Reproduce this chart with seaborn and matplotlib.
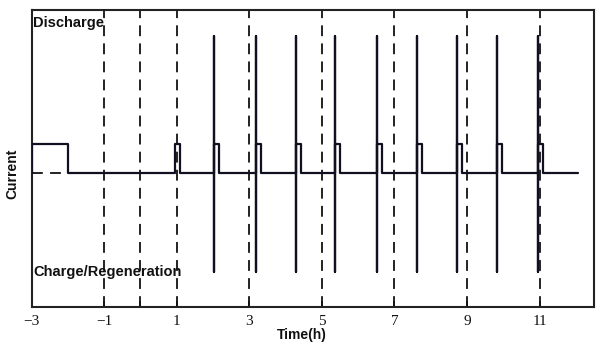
import numpy as np
import pandas as pd
import matplotlib
matplotlib.use("Agg")
import matplotlib.pyplot as plt
import seaborn as sns

# Event times (hours) and current levels
initial_end = -2.0            # initial discharge block from -3 h
first_pulse = 0.95            # standalone discharge pulse
spike_times = [2.04, 3.19, 4.28, 5.37, 6.52, 7.63, 8.72, 9.83, 10.96]
pulse_width = 0.14
end_time = 12.05
base_level = 0.0
pulse_level = 1.0
spike_top = 4.7
spike_bottom = -3.4
marker_lines = [-1, 0, 1, 3, 5, 7, 9, 11]
tick_positions = [-3, -1, 0, 1, 3, 5, 7, 9, 11]
tick_labels = ["\u22123", "\u22121", "", "1", "3", "5", "7", "9", "11"]

# Build the current profile as a step path
xs, ys = [], []
def add(x, y):
    xs.append(x); ys.append(y)

add(-3, base_level); add(-3, pulse_level); add(initial_end, pulse_level); add(initial_end, base_level)
add(first_pulse, base_level); add(first_pulse, pulse_level)
add(first_pulse + pulse_width, pulse_level); add(first_pulse + pulse_width, base_level)
for t in spike_times:
    add(t, base_level); add(t, spike_top); add(t, spike_bottom); add(t, pulse_level)
    add(t + pulse_width, pulse_level); add(t + pulse_width, base_level)
add(end_time, base_level)

profile = pd.DataFrame({"time": xs, "current": ys})

sns.set_style("white")
plt.rcParams["font.family"] = ["Liberation Sans", "DejaVu Sans"]
plt.rcParams["text.color"] = "#111111"
plt.rcParams["axes.labelcolor"] = "#111111"
plt.rcParams["xtick.color"] = "#111111"

fig = plt.figure(figsize=(6.0, 3.49), dpi=100)
ax = fig.add_axes([0.0525, 0.120, 0.9375, 0.851])

for m in marker_lines:
    ax.axvline(m, color="#111111", lw=1.3, dashes=(6, 4), zorder=1)

# dashed baseline under the initial block
sns.lineplot(x=[-3, initial_end], y=[base_level, base_level], ax=ax,
             color="#111111", lw=1.3, linestyle=(0, (6, 4)))

sns.lineplot(data=profile, x="time", y="current", sort=False, estimator=None,
             ax=ax, color="#101020", lw=1.6, zorder=3)

ax.set_xlim(-3, 12.5)
ax.set_ylim(-4.6, 5.6)
ax.set_yticks([])
ax.set_xticks(tick_positions)
ax.set_xticklabels(tick_labels, family=["Liberation Serif", "DejaVu Serif"], fontsize=11)
ax.tick_params(axis="x", direction="in", length=4, width=1.2, pad=6, bottom=True, color="#111111")

for s in ax.spines.values():
    s.set_visible(True)
    s.set_color("#222222")
    s.set_linewidth(1.5)

ax.set_xlabel("Time(h)", fontsize=10, fontweight="bold")
ax.xaxis.set_label_coords(0.481, -0.07)
ax.set_ylabel("Current", fontsize=10, fontweight="bold")
ax.yaxis.set_label_coords(-0.021, 0.45)

ax.text(0.003, 0.955, "Discharge", transform=ax.transAxes, fontsize=10.5,
        fontweight="bold", va="center", ha="left")
ax.text(0.003, 0.118, "Charge/Regeneration", transform=ax.transAxes, fontsize=10.5,
        fontweight="bold", va="center", ha="left")

fig.savefig("out.png", dpi=100)
